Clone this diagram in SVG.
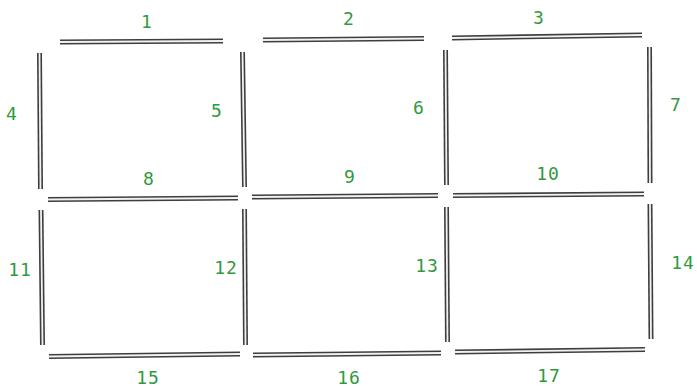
<svg xmlns="http://www.w3.org/2000/svg" width="697" height="387" viewBox="0 0 697 387">
<style>
.o{stroke:#3e3e3c;stroke-width:5;fill:none;stroke-linecap:butt}
.i{stroke:#f2f2f0;stroke-width:1.8;fill:none}
.t{font-family:"DejaVu Sans Mono","Liberation Mono",monospace;font-size:18px;fill:#2f9a40;text-anchor:middle;letter-spacing:1px}
</style>
<rect width="697" height="387" fill="#ffffff"/>
<g id="stick1"><path class="o" d="M60,42 L223,41"/><path class="i" d="M60,42 L223,41"/><text class="t" x="147" y="28">1</text></g>
<g id="stick2"><path class="o" d="M263,40 L424,38.5"/><path class="i" d="M263,40 L424,38.5"/><text class="t" x="349" y="25">2</text></g>
<g id="stick3"><path class="o" d="M452,38 L642,35"/><path class="i" d="M452,38 L642,35"/><text class="t" x="539" y="24">3</text></g>
<g id="stick4"><path class="o" d="M39.5,53 L40.5,189"/><path class="i" d="M39.5,53 L40.5,189"/><text class="t" x="12" y="120">4</text></g>
<g id="stick5"><path class="o" d="M242.5,52 L244.5,187"/><path class="i" d="M242.5,52 L244.5,187"/><text class="t" x="217" y="117">5</text></g>
<g id="stick6"><path class="o" d="M445.5,50 L446.5,185"/><path class="i" d="M445.5,50 L446.5,185"/><text class="t" x="419" y="114">6</text></g>
<g id="stick7"><path class="o" d="M649.5,47 L650,183"/><path class="i" d="M649.5,47 L650,183"/><text class="t" x="676" y="111">7</text></g>
<g id="stick8"><path class="o" d="M48,199.5 L238,198"/><path class="i" d="M48,199.5 L238,198"/><text class="t" x="149" y="185">8</text></g>
<g id="stick9"><path class="o" d="M252,197 L438,195.5"/><path class="i" d="M252,197 L438,195.5"/><text class="t" x="350" y="183">9</text></g>
<g id="stick10"><path class="o" d="M453,195.5 L644,194"/><path class="i" d="M453,195.5 L644,194"/><text class="t" x="548" y="180">10</text></g>
<g id="stick11"><path class="o" d="M41,210 L42.5,345"/><path class="i" d="M41,210 L42.5,345"/><text class="t" x="20" y="276">11</text></g>
<g id="stick12"><path class="o" d="M244.5,209 L245.5,345"/><path class="i" d="M244.5,209 L245.5,345"/><text class="t" x="226" y="274">12</text></g>
<g id="stick13"><path class="o" d="M446.5,207 L447.5,342"/><path class="i" d="M446.5,207 L447.5,342"/><text class="t" x="427" y="272">13</text></g>
<g id="stick14"><path class="o" d="M650,204 L651,339"/><path class="i" d="M650,204 L651,339"/><text class="t" x="683" y="269">14</text></g>
<g id="stick15"><path class="o" d="M49,356.5 L240,354"/><path class="i" d="M49,356.5 L240,354"/><text class="t" x="148" y="384">15</text></g>
<g id="stick16"><path class="o" d="M253,355 L441,353"/><path class="i" d="M253,355 L441,353"/><text class="t" x="349" y="384">16</text></g>
<g id="stick17"><path class="o" d="M455,352 L645,349.5"/><path class="i" d="M455,352 L645,349.5"/><text class="t" x="549" y="382">17</text></g>
</svg>
